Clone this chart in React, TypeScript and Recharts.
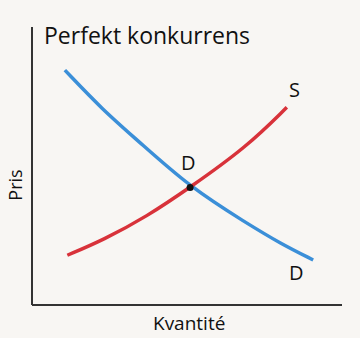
import React from "react";
import { LineChart, Line, XAxis, YAxis, ReferenceDot } from "recharts";

// efterfrågan (D) och utbud (S), läst från bilden
const demandQty = [1.06, 2.29, 3.39, 5.1, 6.93, 8.0, 9.07];
const demandPrice = [8.45, 7.01, 5.94, 4.23, 2.94, 2.22, 1.62];
const supplyQty = [1.14, 2.3, 3.7, 5.1, 6.93, 8.22];
const supplyPrice = [1.79, 2.34, 3.18, 4.23, 5.69, 7.11];
const equilibrium = { q: 5.1, p: 4.23 };

const demand = demandQty.map((q, i) => ({ q, p: demandPrice[i] }));
const supply = supplyQty.map((q, i) => ({ q, p: supplyPrice[i] }));

const font = "'Open Sans', 'Noto Sans', sans-serif";

export default function App() {
  const label = (left: number, top: number, text: string, size = 20): React.ReactNode => (
    <div style={{ position: "absolute", left, top, fontSize: size, fontFamily: font, color: "#111", lineHeight: 1 }}>
      {text}
    </div>
  );
  return (
    <div style={{ position: "absolute", left: 0, top: 0, width: 360, height: 338, background: "#f8f6f3" }}>
      <LineChart width={360} height={338} margin={{ top: 27, right: 18, bottom: 31, left: 30 }}>
        <XAxis type="number" dataKey="q" domain={[0, 10]} tick={false} height={2} axisLine={{ stroke: "#333", strokeWidth: 2 }} tickLine={false} />
        <YAxis type="number" dataKey="p" domain={[0, 10]} tick={false} width={2} axisLine={{ stroke: "#333", strokeWidth: 2 }} tickLine={false} />
        <Line data={demand} dataKey="p" type="basis" stroke="#3b8fd8" strokeWidth={3.5} dot={false} isAnimationActive={false} />
        <Line data={supply} dataKey="p" type="basis" stroke="#d8323a" strokeWidth={3.5} dot={false} isAnimationActive={false} />
        <ReferenceDot x={equilibrium.q} y={equilibrium.p} r={3.5} fill="#111" stroke="none" />
      </LineChart>
      {label(44, 24, "Perfekt konkurrens", 23)}
      {label(289, 80, "S")}
      {label(181, 153, "D")}
      {label(289, 263, "D")}
      {label(153, 314, "Kvantité", 19)}
      <div style={{ position: "absolute", left: 15, top: 185, transform: "translate(-50%, -50%) rotate(-90deg)", fontSize: 18, fontFamily: font, color: "#111", lineHeight: 1 }}>
        Pris
      </div>
    </div>
  );
}
